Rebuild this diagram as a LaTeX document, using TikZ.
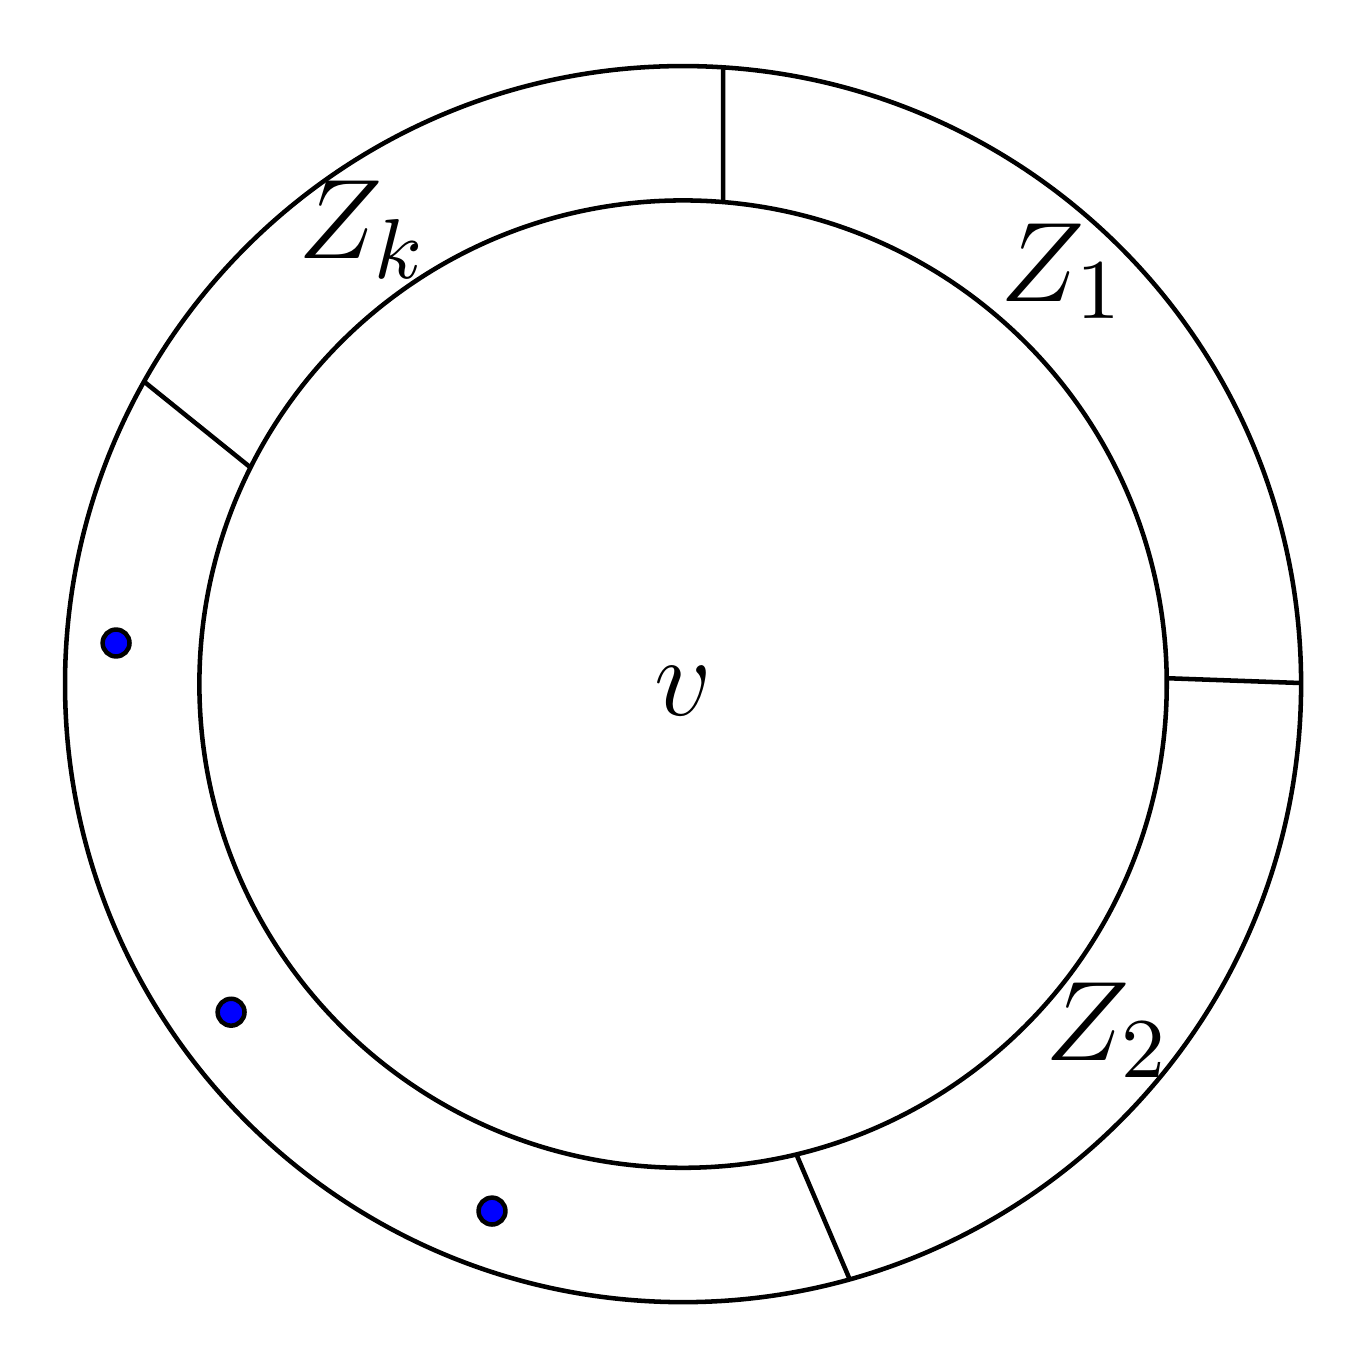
\documentclass[tikz,border=0pt]{standalone}
\usepackage{tikz}

\begin{document}
\begin{tikzpicture}[
        line width=0.48pt,
        zlabel/.style={inner sep=0pt,anchor=base west,font=\fontsize{12.9}{15}\selectfont},
        vertex/.style={draw=black,fill=blue}
    ]
        \def\rOut{2.3}                              % outer radius of the ring
        \def\rIn{1.8}                               % inner radius of the ring
        \def\rDot{0.05}                             % radius of the blue points

        \useasboundingbox (-2.542,-2.490) rectangle (2.508,2.546);

        % Draw the two circles of the ring
        \draw (0,0) circle (\rOut);
        \draw (0,0) circle (\rIn);

        % Draw the cuts between the zones
        \draw (85.25:\rIn) -- (86.29:\rOut);
        \draw (0.7:\rIn) -- (0.1:\rOut);
        \draw (-76.45:\rIn) -- (-74.36:\rOut);
        \draw (153.4:\rIn) -- (150.7:\rOut);

        % Names of the zones and of the centre
        \node[zlabel] (zk) at (-1.440,1.585) {$Z_k$};
        \node[zlabel] (z1) at (1.172,1.425) {$Z_1$};
        \node[zlabel] (z2) at (1.340,-1.400) {$Z_2$};
        \node[inner sep=0pt,font=\fontsize{12.9}{15}\selectfont] (v) at (0,-0.025) {$v$};

        % Draw the points in the last zone
        \draw[vertex] (-2.110,0.153) circle (\rDot);
        \draw[vertex] (-1.682,-1.221) circle (\rDot);
        \draw[vertex] (-0.711,-1.961) circle (\rDot);
    \end{tikzpicture}
\end{document}
